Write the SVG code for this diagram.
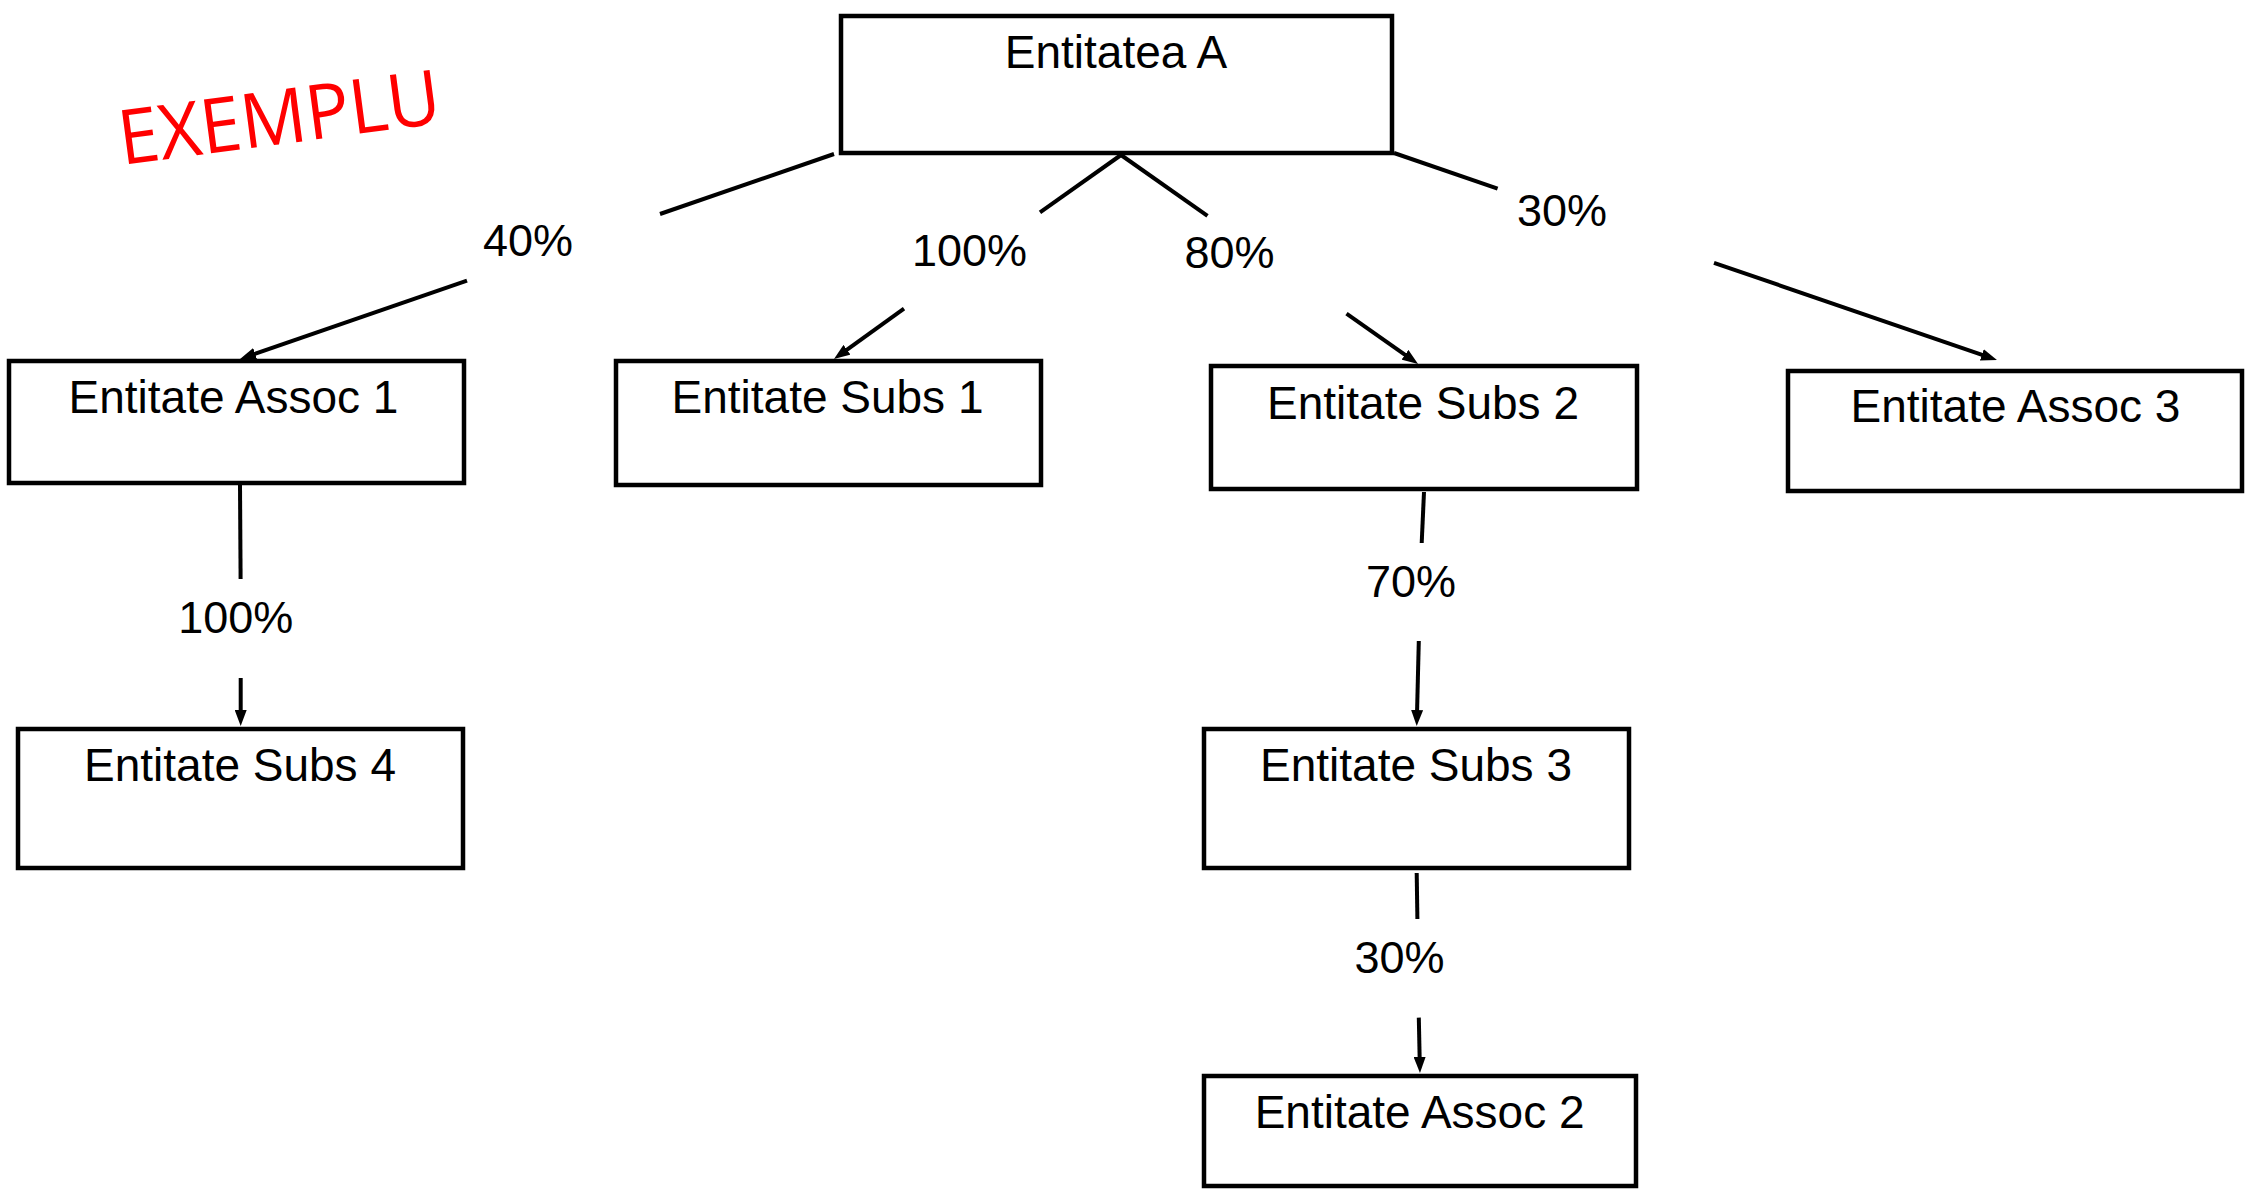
<svg xmlns="http://www.w3.org/2000/svg" width="2246" height="1192" viewBox="0 0 2246 1192">
<style>
.box{fill:#fff;stroke:#000;stroke-width:4.5}
.t{font-family:"Liberation Sans",Arial,sans-serif;font-size:46px;fill:#000;text-anchor:middle}
.lbl{font-family:"Liberation Sans",Arial,sans-serif;font-size:45px;fill:#000;text-anchor:middle}
.ln{stroke:#000;stroke-width:4;fill:none}
.ex{font-family:"Open Sans","Noto Sans",sans-serif;font-size:76px;fill:#ff0000}
</style>
<defs>
<marker id="arr" viewBox="0 0 16 12" refX="8" refY="6" markerWidth="16" markerHeight="12" markerUnits="userSpaceOnUse" orient="auto">
<path d="M0,0 L16,6 L0,12 Z" fill="#000"/>
</marker>
</defs>
<rect width="2246" height="1192" fill="#fff"/>
<text class="ex" x="122" y="165" textLength="324" lengthAdjust="spacingAndGlyphs" transform="rotate(-7.5 122 165)">EXEMPLU</text>
<g id="connectors">
<line class="ln" x1="834" y1="154" x2="660" y2="214"/>
<line class="ln" x1="467" y1="280.7" x2="247.6" y2="356.4" marker-end="url(#arr)"/>
<line class="ln" x1="1121" y1="155" x2="1040" y2="212.4"/>
<line class="ln" x1="904" y1="308.7" x2="840.5" y2="354.4" marker-end="url(#arr)"/>
<line class="ln" x1="1121" y1="155" x2="1207.5" y2="215.9"/>
<line class="ln" x1="1346.5" y1="313.7" x2="1411.5" y2="359.4" marker-end="url(#arr)"/>
<line class="ln" x1="1394" y1="153" x2="1497.6" y2="188.6"/>
<line class="ln" x1="1714" y1="262.8" x2="1989.4" y2="357.4" marker-end="url(#arr)"/>
<line class="ln" x1="240" y1="485" x2="240.6" y2="579"/>
<line class="ln" x1="240.7" y1="678" x2="240.7" y2="718" marker-end="url(#arr)"/>
<line class="ln" x1="1424" y1="492" x2="1421.7" y2="543"/>
<line class="ln" x1="1418.8" y1="641" x2="1416.9" y2="718" marker-end="url(#arr)"/>
<line class="ln" x1="1416.7" y1="873" x2="1417.4" y2="919"/>
<line class="ln" x1="1418.8" y1="1017.6" x2="1419.8" y2="1065" marker-end="url(#arr)"/>
<text class="lbl" x="528" y="256">40%</text>
<text class="lbl" x="969.5" y="266">100%</text>
<text class="lbl" x="1229.5" y="268">80%</text>
<text class="lbl" x="1562" y="226">30%</text>
<text class="lbl" x="235.7" y="633">100%</text>
<text class="lbl" x="1411" y="597">70%</text>
<text class="lbl" x="1399.6" y="973">30%</text>
</g>
<g id="node-A"><rect class="box" x="841" y="16" width="551" height="137"/><text class="t" x="1116" y="68">Entitatea A</text></g>
<g id="node-assoc1"><rect class="box" x="9" y="361" width="455" height="122"/><text class="t" x="233.5" y="413">Entitate Assoc 1</text></g>
<g id="node-subs1"><rect class="box" x="616" y="361" width="425" height="124"/><text class="t" x="827.5" y="413">Entitate Subs 1</text></g>
<g id="node-subs2"><rect class="box" x="1211" y="366" width="426" height="123"/><text class="t" x="1423" y="419">Entitate Subs 2</text></g>
<g id="node-assoc3"><rect class="box" x="1788" y="371" width="454" height="120"/><text class="t" x="2015.5" y="422">Entitate Assoc 3</text></g>
<g id="node-subs4"><rect class="box" x="18" y="729" width="445" height="139"/><text class="t" x="240" y="781">Entitate Subs 4</text></g>
<g id="node-subs3"><rect class="box" x="1204" y="729" width="425" height="139"/><text class="t" x="1416" y="781">Entitate Subs 3</text></g>
<g id="node-assoc2"><rect class="box" x="1204" y="1076" width="432" height="110"/><text class="t" x="1419.6" y="1128">Entitate Assoc 2</text></g>
</svg>
